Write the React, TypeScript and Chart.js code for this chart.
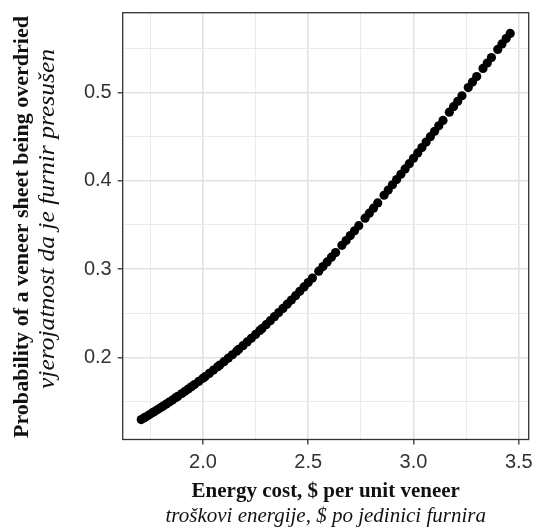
import React, { useEffect, useRef } from "react";
import { Chart, registerables } from "chart.js";

Chart.register(...registerables);

// Data
const energyCost = [
  1.707, 1.72, 1.73, 1.745, 1.76, 1.77, 1.785, 1.8, 1.81, 1.825, 1.84, 1.855, 1.87, 1.88,
  1.9, 1.915, 1.93, 1.945, 1.96, 1.98, 2.0, 2.01, 2.03, 2.05, 2.07, 2.08, 2.1, 2.12, 2.14,
  2.16, 2.17, 2.19, 2.21, 2.23, 2.25, 2.27, 2.28, 2.3, 2.32, 2.34, 2.36, 2.38, 2.4, 2.42,
  2.44, 2.46, 2.48, 2.5, 2.52, 2.55, 2.57, 2.59, 2.61, 2.63, 2.66, 2.68, 2.7, 2.72, 2.74,
  2.77, 2.79, 2.81, 2.83, 2.86, 2.88, 2.9, 2.92, 2.94, 2.96, 2.98, 3.0, 3.02, 3.04, 3.06,
  3.08, 3.1, 3.12, 3.14, 3.17, 3.19, 3.21, 3.23, 3.26, 3.28, 3.3, 3.33, 3.35, 3.37, 3.4,
  3.42, 3.44, 3.459,
];
const probOverdried = [
  0.1296, 0.1314, 0.1328, 0.135, 0.1372, 0.1387, 0.1409, 0.1432, 0.1447, 0.147, 0.1494,
  0.1517, 0.1542, 0.1558, 0.1591, 0.1616, 0.1641, 0.1667, 0.1693, 0.1728, 0.1764, 0.1782,
  0.1819, 0.1856, 0.1894, 0.1913, 0.1952, 0.1991, 0.203, 0.2071, 0.2092, 0.2133, 0.2175,
  0.2217, 0.226, 0.2304, 0.2326, 0.2371, 0.2416, 0.2462, 0.2508, 0.2555, 0.2603, 0.265,
  0.2699, 0.2749, 0.2798, 0.2848, 0.2899, 0.2977, 0.3029, 0.3082, 0.3135, 0.3188, 0.327,
  0.3324, 0.338, 0.3435, 0.3492, 0.3577, 0.3634, 0.3691, 0.375, 0.3837, 0.3896, 0.3956,
  0.4015, 0.4075, 0.4135, 0.4195, 0.4256, 0.4316, 0.4377, 0.4439, 0.45, 0.4561, 0.4623,
  0.4685, 0.4778, 0.484, 0.4901, 0.4964, 0.5057, 0.5119, 0.5181, 0.5274, 0.5335, 0.5397,
  0.5489, 0.5551, 0.5612, 0.567,
];

const xMajorTicks = [2.0, 2.5, 3.0, 3.5];
const xMinorTicks = [1.75, 2.25, 2.75, 3.25];
const yMajorTicks = [0.2, 0.3, 0.4, 0.5];
const yMinorTicks = [0.15, 0.25, 0.35, 0.45, 0.55];

const xTitle = "Energy cost, $ per unit veneer";
const xSubtitle = "troškovi energije, $ po jedinici furnira";
const yTitle = "Probability of a veneer sheet being overdried";
const ySubtitle = "vjerojatnost da je furnir presušen";

const W = 537;
const H = 529;

const isMajor = (list: number[], v: number) => list.some((m) => Math.abs(m - v) < 1e-6);

function drawVertical(ctx: any, text: string, font: string, x: number, cy: number, length: number) {
  ctx.save();
  ctx.font = font;
  const w = ctx.measureText(text).width;
  ctx.translate(x, cy);
  ctx.rotate(-Math.PI / 2);
  ctx.scale(length / w, 1);
  ctx.fillText(text, 0, 0);
  ctx.restore();
}

const decorPlugin = {
  id: "decor",
  afterDraw(chart: any) {
    const { ctx, chartArea } = chart;
    const { left, right, top, bottom } = chartArea;
    ctx.save();
    // panel border
    ctx.strokeStyle = "#333333";
    ctx.lineWidth = 1.3;
    ctx.strokeRect(left, top, right - left, bottom - top);

    const cx = (left + right) / 2;
    ctx.fillStyle = "#111111";
    ctx.textAlign = "center";
    ctx.textBaseline = "alphabetic";

    // x titles
    ctx.font = 'bold 21px "Liberation Serif"';
    ctx.fillText(xTitle, cx, 496.5);
    ctx.font = 'italic 21px "Liberation Serif"';
    ctx.fillText(xSubtitle, cx, 521.5);

    // y titles
    drawVertical(ctx, yTitle, 'bold 22px "Liberation Serif"', 28, 227, 422);
    drawVertical(ctx, ySubtitle, 'italic 24px "Liberation Serif"', 54, 219, 340);

    ctx.restore();
  },
};

export default function App() {
  const canvasRef = useRef<HTMLCanvasElement | null>(null);

  useEffect(() => {
    const canvas = canvasRef.current;
    if (!canvas) return;
    const points = energyCost.map((x, i) => ({ x, y: probOverdried[i] }));
    const tickFont = { family: '"Liberation Sans", Arial, sans-serif', size: 20 };

    const chart = new Chart(canvas, {
      type: "scatter",
      data: {
        datasets: [
          {
            data: points,
            backgroundColor: "#000000",
            borderWidth: 0,
            pointRadius: 4.6,
            pointHoverRadius: 4.6,
          },
        ],
      },
      plugins: [decorPlugin],
      options: {
        responsive: false,
        animation: false,
        devicePixelRatio: 1,
        layout: { padding: { top: 12.7, right: 8.3, left: 0, bottom: 0 } },
        plugins: {
          legend: { display: false },
          tooltip: { enabled: false },
          title: { display: false },
        },
        scales: {
          x: {
            type: "linear",
            min: 1.619,
            max: 3.547,
            border: { display: false },
            afterBuildTicks: (scale: any) => {
              scale.ticks = [...xMinorTicks, ...xMajorTicks]
                .sort((a, b) => a - b)
                .map((v) => ({ value: v }));
            },
            afterFit: (scale: any) => {
              scale.height = 89.5;
              scale.paddingLeft = 0;
              scale.paddingRight = 0;
            },
            grid: {
              drawTicks: true,
              tickLength: 5,
              color: (c: any) => (isMajor(xMajorTicks, c.tick?.value) ? "#e2e2e2" : "#ebebeb"),
              lineWidth: (c: any) => (isMajor(xMajorTicks, c.tick?.value) ? 1.6 : 1),
              tickColor: (c: any) => (isMajor(xMajorTicks, c.tick?.value) ? "#333333" : "rgba(0,0,0,0)"),
              tickWidth: 1.3,
            },
            ticks: {
              autoSkip: false,
              maxRotation: 0,
              padding: 6,
              color: "#333333",
              font: tickFont,
              callback: (v: any) => (isMajor(xMajorTicks, Number(v)) ? Number(v).toFixed(1) : ""),
            },
          },
          y: {
            type: "linear",
            min: 0.107,
            max: 0.5905,
            border: { display: false },
            afterBuildTicks: (scale: any) => {
              scale.ticks = [...yMinorTicks, ...yMajorTicks]
                .sort((a, b) => a - b)
                .map((v) => ({ value: v }));
            },
            afterFit: (scale: any) => {
              scale.width = 122.7;
              scale.paddingTop = 0;
              scale.paddingBottom = 0;
            },
            grid: {
              drawTicks: true,
              tickLength: 5,
              color: (c: any) => (isMajor(yMajorTicks, c.tick?.value) ? "#e2e2e2" : "#ebebeb"),
              lineWidth: (c: any) => (isMajor(yMajorTicks, c.tick?.value) ? 1.6 : 1),
              tickColor: (c: any) => (isMajor(yMajorTicks, c.tick?.value) ? "#333333" : "rgba(0,0,0,0)"),
              tickWidth: 1.3,
            },
            ticks: {
              autoSkip: false,
              padding: 6,
              color: "#333333",
              font: tickFont,
              callback: (v: any) => (isMajor(yMajorTicks, Number(v)) ? Number(v).toFixed(1) : ""),
            },
          },
        },
      },
    });
    return () => chart.destroy();
  }, []);

  return (
    <div style={{ position: "fixed", left: 0, top: 0, width: W, height: H, background: "#ffffff" }}>
      <canvas ref={canvasRef} width={W} height={H} style={{ width: W, height: H, display: "block" }} />
    </div>
  );
}
